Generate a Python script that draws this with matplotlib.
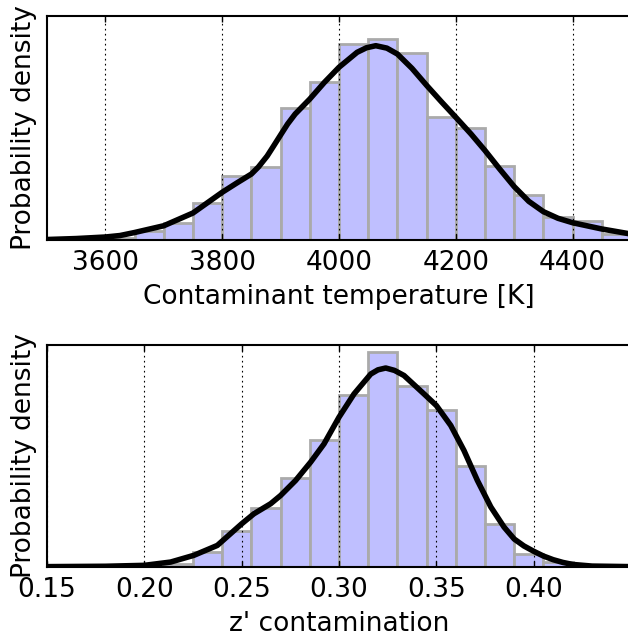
import numpy as np
import matplotlib
matplotlib.use('Agg')
import matplotlib.pyplot as plt

# top panel: contaminant temperature
temp_edges = [3600, 3650, 3700, 3750, 3800, 3850, 3900, 3950, 4000, 4050,
              4100, 4150, 4200, 4250, 4300, 4350, 4400, 4450, 4500]
temp_hist = [0.027, 0.126, 0.226, 0.498, 0.873, 0.987, 1.788, 2.149, 2.661,
             2.729, 2.535, 1.666, 1.521, 0.999, 0.611, 0.307, 0.253, 0.081]
temp_kde_x = [3500, 3550, 3600, 3625, 3650, 3700, 3750, 3800, 3825, 3850,
              3862, 3877, 3888, 3900, 3912, 3925, 3950, 3975, 4000, 4031,
              4047, 4063, 4082, 4100, 4125, 4150, 4175, 4200, 4226, 4250,
              4275, 4300, 4325, 4350, 4375, 4400, 4450, 4500]
temp_kde_y = [0.007, 0.020, 0.041, 0.061, 0.102, 0.194, 0.367, 0.648, 0.774, 0.896,
              0.991, 1.140, 1.276, 1.426, 1.575, 1.711, 1.914, 2.140, 2.345, 2.548,
              2.610, 2.638, 2.605, 2.525, 2.330, 2.100, 1.880, 1.666, 1.440, 1.215,
              0.965, 0.725, 0.525, 0.385, 0.295, 0.235, 0.150, 0.081]
temp_ticks = [3600, 3800, 4000, 4200, 4400]

# bottom panel: z' contamination
z_edges = [0.210, 0.225, 0.240, 0.255, 0.270, 0.285, 0.300, 0.315,
           0.330, 0.345, 0.360, 0.375, 0.390, 0.405, 0.420]
z_hist = [0.16, 0.84, 1.97, 3.22, 4.88, 6.95, 9.41, 11.74, 9.87, 8.61,
          5.51, 2.36, 0.69, 0.27]
z_kde_x = [0.15, 0.18, 0.20, 0.2135, 0.2255, 0.2375, 0.25, 0.2563, 0.2649, 0.27,
           0.2777, 0.2854, 0.2923, 0.30, 0.3077, 0.3163, 0.32, 0.324, 0.3285, 0.3334,
           0.3437, 0.35, 0.3574, 0.3642, 0.3711, 0.378, 0.3848, 0.39, 0.395, 0.40,
           0.405, 0.41, 0.415, 0.42, 0.43, 0.45]
z_kde_y = [0.02, 0.04, 0.09, 0.27, 0.64, 1.18, 2.36, 2.91, 3.46, 3.91,
           4.73, 5.73, 6.73, 8.19, 9.46, 10.55, 10.78, 10.88, 10.75, 10.47,
           9.46, 8.83, 7.74, 6.37, 4.73, 3.28, 2.18, 1.53, 1.15, 0.86,
           0.60, 0.40, 0.25, 0.14, 0.05, 0.02]
z_ticks = [0.15, 0.20, 0.25, 0.30, 0.35, 0.40]

plt.rcParams['font.family'] = 'DejaVu Sans'
plt.rcParams['font.size'] = 19

fig = plt.figure(figsize=(6.28, 6.43), dpi=100)
ax1 = fig.add_axes([0.0748, 0.6267, 0.93, 0.3484])
ax2 = fig.add_axes([0.0748, 0.1182, 0.93, 0.3453])


def draw_panel(ax, edges, hist, kx, ky, ticks, xlim, ytop, xlabel, fmt):
    edges = np.array(edges)
    ax.bar(edges[:-1], hist, width=np.diff(edges), align='edge',
           color='#bfbfff', edgecolor='#aaaaaa', linewidth=2)
    ax.plot(kx, ky, color='k', lw=4, solid_capstyle='round', solid_joinstyle='round')
    ax.set_xlim(*xlim)
    ax.set_ylim(0, ytop)
    ax.set_xticks(ticks)
    ax.set_xticklabels([fmt.format(t) for t in ticks])
    ax.set_yticks([])
    ax.grid(True, axis='x', color='k', linestyle=(0, (1.5, 3)), lw=0.8)
    ax.tick_params(axis='x', direction='in', top=True, length=4, width=1, pad=7)
    for s in ['left', 'top', 'bottom']:
        ax.spines[s].set_linewidth(1.5)
    ax.spines['right'].set_visible(False)
    ax.set_xlabel(xlabel, labelpad=6)
    ax.set_ylabel('Probability density', labelpad=7)


draw_panel(ax1, temp_edges, temp_hist, temp_kde_x, temp_kde_y, temp_ticks,
           (3500, 4500), 3.041, 'Contaminant temperature [K]', '{:.0f}')
draw_panel(ax2, z_edges, z_hist, z_kde_x, z_kde_y, z_ticks,
           (0.15, 0.45), 12.14, "z' contamination", '{:.2f}')

fig.savefig('out.png', dpi=100)
